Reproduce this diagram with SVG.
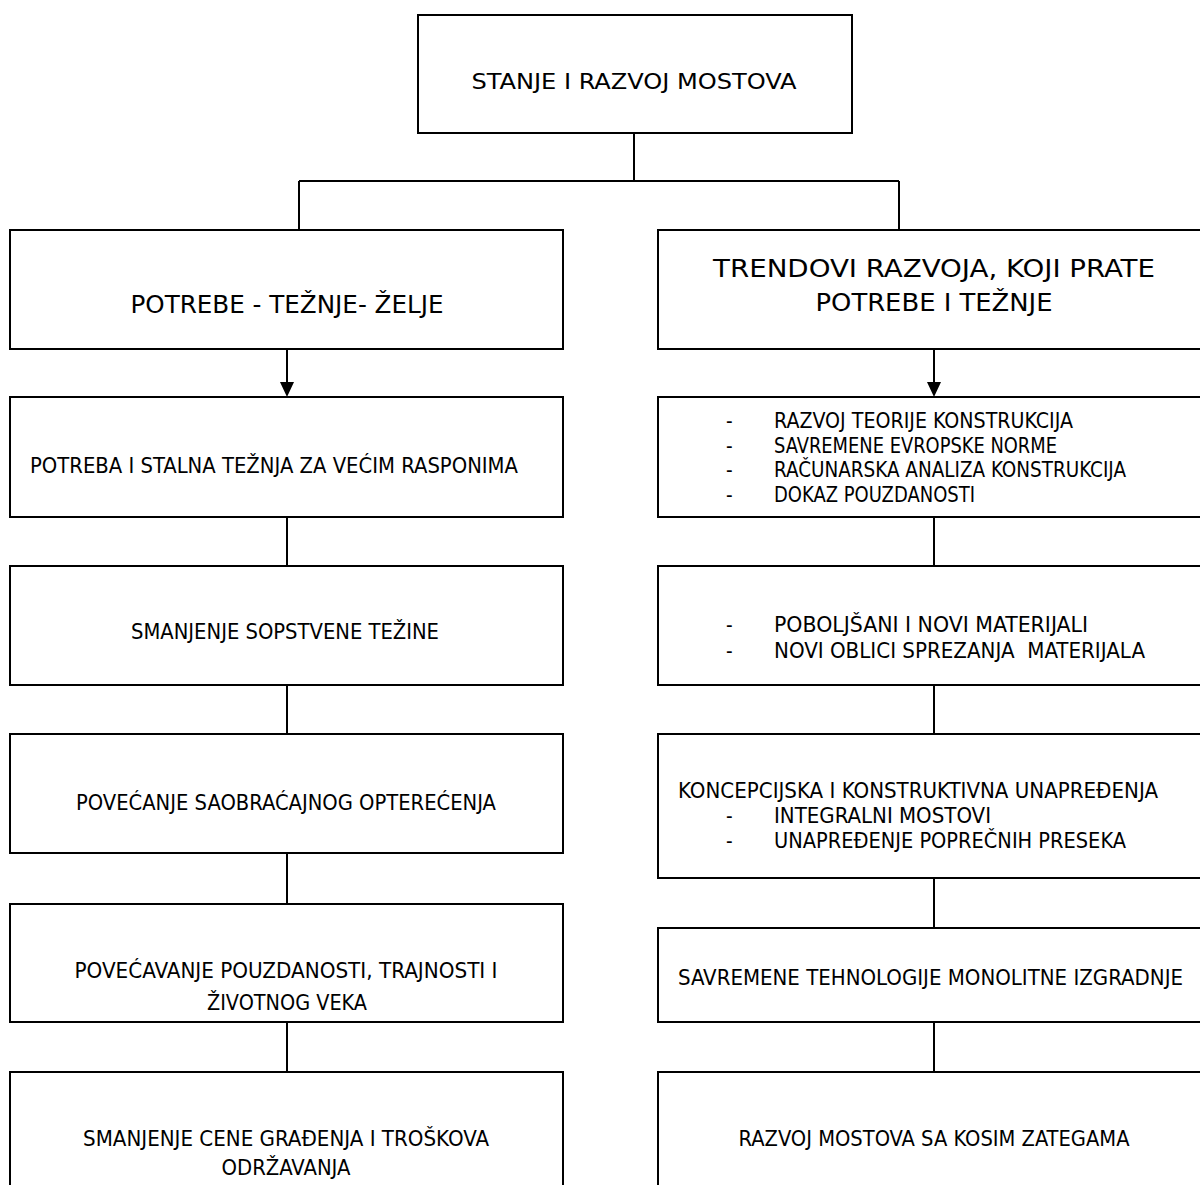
<svg xmlns="http://www.w3.org/2000/svg" width="1200" height="1185" viewBox="0 0 1200 1185">
<style>
.box{fill:#fff;stroke:#000;stroke-width:2}
.ln{fill:none;stroke:#000;stroke-width:2}
text{font-family:"DejaVu Sans Condensed","DejaVu Sans",sans-serif;fill:#000;font-size:20.5px;white-space:pre}
.c{text-anchor:middle}
.h{font-size:24px}
.t{font-size:22px}
</style>
<rect width="1200" height="1185" fill="#fff"/>
<g id="connectors">
<path class="ln" d="M634,133 V181 M299,181 H899 M299,181 V230 M899,181 V230"/>
<path class="ln" d="M287,349 V383"/>
<path class="ln" d="M934,349 V383"/>
<path d="M280,382 L294,382 L287,397 Z" fill="#000"/>
<path d="M927,382 L941,382 L934,397 Z" fill="#000"/>
<path class="ln" d="M287,517 V566 M287,685 V734 M287,853 V904 M287,1022 V1072"/>
<path class="ln" d="M934,517 V566 M934,685 V734 M934,878 V928 M934,1022 V1072"/>
</g>
<g id="root">
<rect class="box" x="418" y="15" width="434" height="118"/>
<text class="c t" x="634" y="89" textLength="325" lengthAdjust="spacingAndGlyphs">STANJE I RAZVOJ MOSTOVA</text>
</g>
<g id="left-head">
<rect class="box" x="10" y="230" width="553" height="119"/>
<text class="c h" x="287" y="313" textLength="313" lengthAdjust="spacingAndGlyphs">POTREBE - TEŽNJE- ŽELJE</text>
</g>
<g id="right-head">
<rect class="box" x="658" y="230" width="555" height="119"/>
<text class="c h" x="934" y="277" textLength="442" lengthAdjust="spacingAndGlyphs">TRENDOVI RAZVOJA, KOJI PRATE</text>
<text class="c h" x="934" y="311" textLength="237" lengthAdjust="spacingAndGlyphs">POTREBE I TEŽNJE</text>
</g>
<g id="left-1">
<rect class="box" x="10" y="397" width="553" height="120"/>
<text x="30" y="473" textLength="488" lengthAdjust="spacingAndGlyphs">POTREBA I STALNA TEŽNJA ZA VEĆIM RASPONIMA</text>
</g>
<g id="left-2">
<rect class="box" x="10" y="566" width="553" height="119"/>
<text class="c" x="285" y="639" textLength="308" lengthAdjust="spacingAndGlyphs">SMANJENJE SOPSTVENE TEŽINE</text>
</g>
<g id="left-3">
<rect class="box" x="10" y="734" width="553" height="119"/>
<text class="c" x="286" y="810" textLength="420" lengthAdjust="spacingAndGlyphs">POVEĆANJE SAOBRAĆAJNOG OPTEREĆENJA</text>
</g>
<g id="left-4">
<rect class="box" x="10" y="904" width="553" height="118"/>
<text class="c" x="286" y="978" textLength="423" lengthAdjust="spacingAndGlyphs">POVEĆAVANJE POUZDANOSTI, TRAJNOSTI I</text>
<text class="c" x="287" y="1010" textLength="160" lengthAdjust="spacingAndGlyphs">ŽIVOTNOG VEKA</text>
</g>
<g id="left-5">
<rect class="box" x="10" y="1072" width="553" height="130"/>
<text class="c" x="286" y="1146" textLength="406" lengthAdjust="spacingAndGlyphs">SMANJENJE CENE GRAĐENJA I TROŠKOVA</text>
<text class="c" x="286" y="1175" textLength="129" lengthAdjust="spacingAndGlyphs">ODRŽAVANJA</text>
</g>
<g id="right-1">
<rect class="box" x="658" y="397" width="555" height="120"/>
<text x="726" y="428">-</text><text x="774" y="428" textLength="299" lengthAdjust="spacingAndGlyphs">RAZVOJ TEORIJE KONSTRUKCIJA</text>
<text x="726" y="453">-</text><text x="774" y="453" textLength="283" lengthAdjust="spacingAndGlyphs">SAVREMENE EVROPSKE NORME</text>
<text x="726" y="477">-</text><text x="774" y="477" textLength="352" lengthAdjust="spacingAndGlyphs">RAČUNARSKA ANALIZA KONSTRUKCIJA</text>
<text x="726" y="502">-</text><text x="774" y="502" textLength="201" lengthAdjust="spacingAndGlyphs">DOKAZ POUZDANOSTI</text>
</g>
<g id="right-2">
<rect class="box" x="658" y="566" width="555" height="119"/>
<text x="726" y="632">-</text><text x="774" y="632" textLength="314" lengthAdjust="spacingAndGlyphs">POBOLJŠANI I NOVI MATERIJALI</text>
<text x="726" y="658">-</text><text x="774" y="658" textLength="371" lengthAdjust="spacingAndGlyphs">NOVI OBLICI SPREZANJA  MATERIJALA</text>
</g>
<g id="right-3">
<rect class="box" x="658" y="734" width="555" height="144"/>
<text x="678" y="798" textLength="480" lengthAdjust="spacingAndGlyphs">KONCEPCIJSKA I KONSTRUKTIVNA UNAPREĐENJA</text>
<text x="726" y="823">-</text><text x="774" y="823" textLength="217" lengthAdjust="spacingAndGlyphs">INTEGRALNI MOSTOVI</text>
<text x="726" y="848">-</text><text x="774" y="848" textLength="352" lengthAdjust="spacingAndGlyphs">UNAPREĐENJE POPREČNIH PRESEKA</text>
</g>
<g id="right-4">
<rect class="box" x="658" y="928" width="555" height="94"/>
<text x="678" y="985" textLength="505" lengthAdjust="spacingAndGlyphs">SAVREMENE TEHNOLOGIJE MONOLITNE IZGRADNJE</text>
</g>
<g id="right-5">
<rect class="box" x="658" y="1072" width="555" height="130"/>
<text class="c" x="934" y="1146" textLength="391" lengthAdjust="spacingAndGlyphs">RAZVOJ MOSTOVA SA KOSIM ZATEGAMA</text>
</g>
</svg>
